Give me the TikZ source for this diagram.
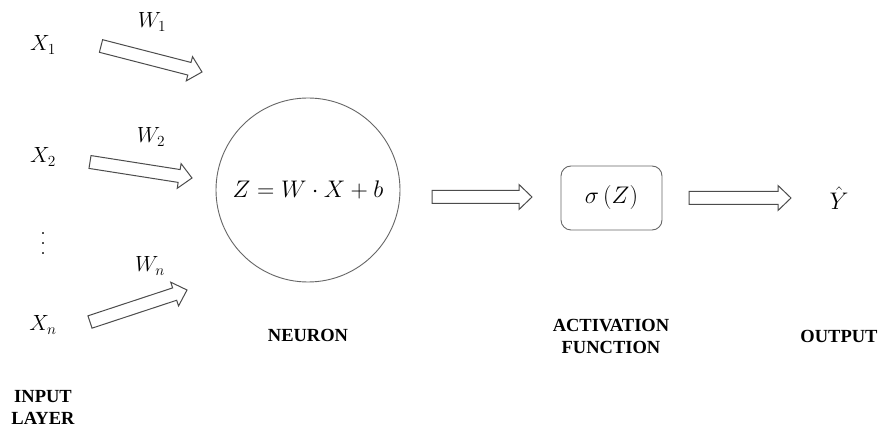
\RequirePackage{fix-cm}
\documentclass[tikz,border=0pt]{standalone}
\usepackage{fontspec}
\newfontfamily\lblfont{Liberation Serif}
\usetikzlibrary{calc}
\tikzset{
  lbl/.style={font=\lblfont\bfseries\fontsize{18.5}{22.5}\selectfont, align=center, inner sep=0pt},
  mth/.style={font=\fontsize{22}{26}\selectfont, inner sep=0pt},
  bigmth/.style={font=\fontsize{24}{28}\selectfont, inner sep=0pt},
  dotsty/.style={font=\fontsize{24}{10}\selectfont, align=center, inner sep=0pt},
  outline/.style={draw=black!60, line width=0.9pt},
  blk/.style={draw=black!70, line width=1pt, line join=miter, fill=white},
}
\newcommand{\blockarrow}[2]{%
  \coordinate (hb#1) at ($(#2)!13pt!(#1)$);
  \draw[blk] ($(#1)!6.5pt!-90:(#2)$) -- ($(hb#1)!6.5pt!90:(#1)$) -- ($(hb#1)!12.5pt!90:(#1)$) -- (#2)
    -- ($(hb#1)!12.5pt!-90:(#1)$) -- ($(hb#1)!6.5pt!-90:(#1)$) -- ($(#1)!6.5pt!90:(#2)$) -- cycle;}
\begin{document}
\begin{tikzpicture}[x=1pt,y=1pt]
\useasboundingbox[fill=white] (0,0) rectangle (881,428);

% inputs
\node[mth] (x1) at (43,383) {$X_1$};
\node[mth] (x2) at (43,271) {$X_2$};
\node[dotsty] (vd) at (43,184) {.\\.\\.};
\node[mth] (xn) at (43,103) {$X_n$};

% weights
\node[mth] (w1) at (152,406) {$W_1$};
\node[mth] (w2) at (151,291) {$W_2$};
\node[mth] (wn) at (150,162) {$W_n$};

% weight arrows
\coordinate (t1) at (101,382); \coordinate (h1) at (202,356);
\coordinate (t2) at (90,266);  \coordinate (h2) at (192,250);
\coordinate (tn) at (90,106);  \coordinate (hn) at (187,138);
\blockarrow{t1}{h1}
\blockarrow{t2}{h2}
\blockarrow{tn}{hn}

% neuron
\node[circle, outline, minimum size=184pt, inner sep=0pt] (neu) at (308,238) {};
\node[bigmth] (eq) at (308,238) {$Z = W \cdot X + b$};

% activation
\node[rectangle, rounded corners=10pt, outline, minimum width=101pt, minimum height=64pt, inner sep=0pt] (act) at (611.5,230) {};
\node[bigmth] (sig) at (611.5,230) {$\sigma\left(Z\right)$};

% output
\node[bigmth] (y) at (839,230) {$\hat{Y}$};

% forward arrows
\coordinate (t3) at (432,231); \coordinate (h3) at (532,231);
\coordinate (t4) at (689,230); \coordinate (h4) at (791,230);
\blockarrow{t3}{h3}
\blockarrow{t4}{h4}

% labels
\node[lbl] (lin) at (43,20.5) {INPUT\\LAYER};
\node[lbl] (lneu) at (308,93) {NEURON};
\node[lbl] (lact) at (611,91.5) {ACTIVATION\\FUNCTION};
\node[lbl] (lout) at (839,92) {OUTPUT};
\end{tikzpicture}
\end{document}
